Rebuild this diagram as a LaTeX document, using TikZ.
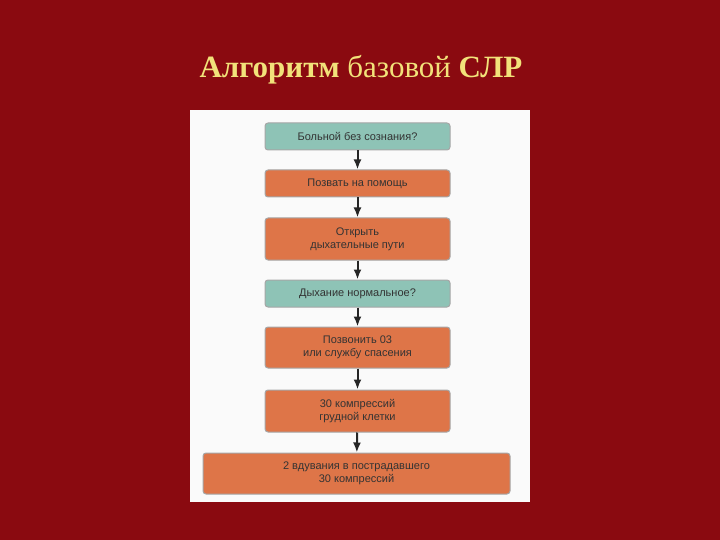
\documentclass[tikz,border=0pt]{standalone}
\usepackage{fontspec}
\setmainfont{Liberation Sans}
\newfontfamily\titlefont{Liberation Serif}
\usetikzlibrary{arrows.meta}
\definecolor{bgred}{HTML}{8A0A10}
\definecolor{tealbox}{HTML}{8EC3B6}
\definecolor{orbox}{HTML}{DE7548}
\definecolor{ttl}{HTML}{F2E27A}
\tikzset{
 box/.style={draw=black!35, line width=1pt, rounded corners=3pt, minimum width=185pt, align=center, font=\fontsize{11}{13}\selectfont, text=black!80},
 qbox/.style={box, fill=tealbox},
 abox/.style={box, fill=orbox},
 arr/.style={-{Latex[length=10pt,width=8pt]}, line width=2pt, black!85}
}
\begin{document}
\begin{tikzpicture}[x=1pt,y=-1pt]
\useasboundingbox (0,0) rectangle (720,540);
\fill[bgred] (0,0) rectangle (720,540);
\node[font=\titlefont\bfseries\fontsize{31}{34}\selectfont, text=ttl] (title) at (361,70) {Алгоритм \textmd{базовой} СЛР};
\fill[white!96!gray] (190,110) rectangle (530,502);
\node[qbox, minimum height=27pt] (b1) at (357.5,136.5) {Больной без сознания?};
\node[abox, minimum height=27pt] (b2) at (357.5,183.5) {Позвать на помощь};
\node[abox, minimum height=42pt] (b3) at (357.5,239) {Открыть\\дыхательные пути};
\node[qbox, minimum height=27pt] (b4) at (357.5,293.5) {Дыхание нормальное?};
\node[abox, minimum height=41pt] (b5) at (357.5,347.5) {Позвонить 03\\или службу спасения};
\node[abox, minimum height=42pt] (b6) at (357.5,411) {30 компрессий\\грудной клетки};
\node[abox, minimum height=41pt, minimum width=307pt] (b7) at (356.5,473.5) {2 вдувания в пострадавшего\\30 компрессий};
\foreach \a/\b in {b1/b2,b2/b3,b3/b4,b4/b5,b5/b6,b6/b7}
 \draw[arr] (\a) -- (\b);
\end{tikzpicture}
\end{document}
